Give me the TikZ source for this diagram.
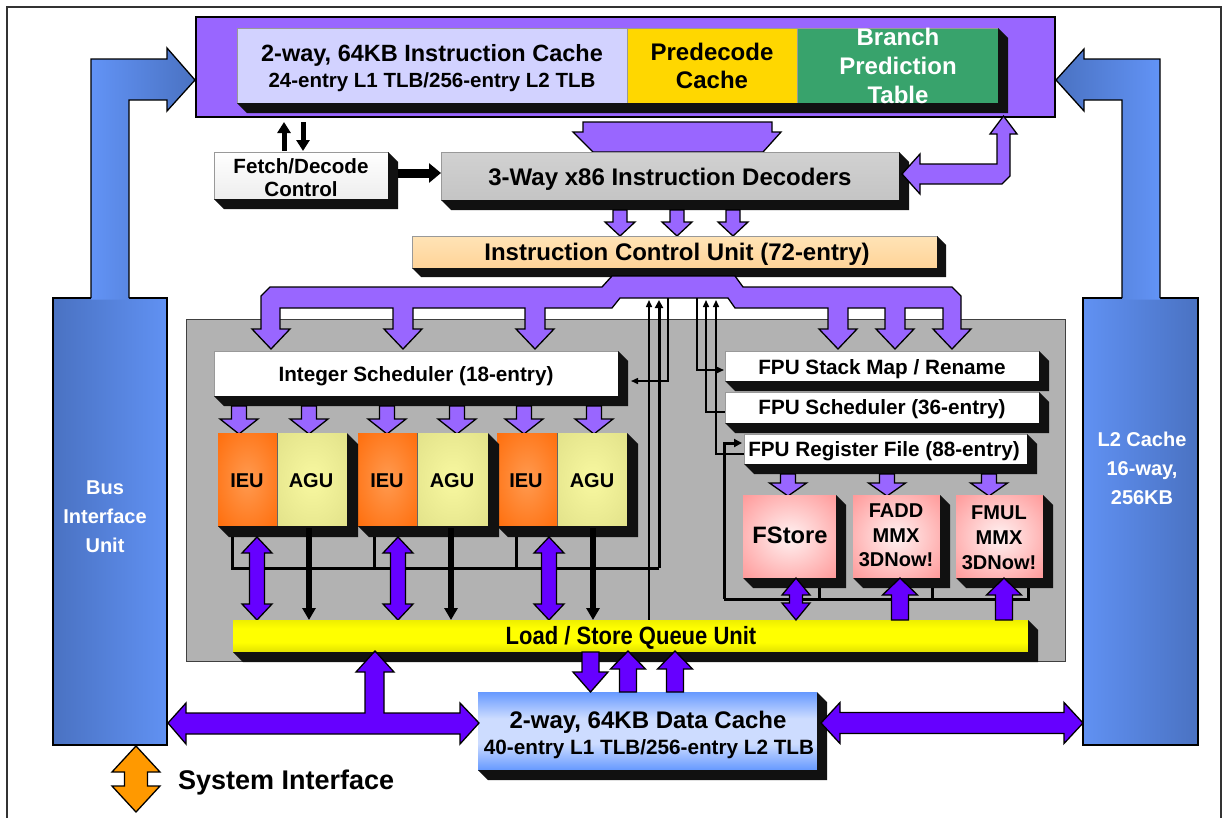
\documentclass[tikz,border=0pt]{standalone}
\usepackage{fontspec}
\setmainfont{Liberation Sans}
\newfontfamily\condf[FakeStretch=0.88]{Liberation Sans}
\usetikzlibrary{arrows.meta}
\definecolor{lpur}{HTML}{9966FF}
\definecolor{vio}{HTML}{6600FF}
\definecolor{bblue}{HTML}{6699FF}
\definecolor{dblue}{HTML}{4A72C2}
\definecolor{lav}{HTML}{D2D2FF}
\definecolor{gold}{HTML}{FFD700}
\definecolor{bgreen}{RGB}{56,163,108}
\definecolor{mgray}{HTML}{B2B2B2}
\definecolor{peachl}{HTML}{FFE3B6}
\definecolor{peachd}{HTML}{FFD398}
\definecolor{ieuor}{HTML}{FF6600}
\definecolor{ieult}{HTML}{FF9A50}
\definecolor{agud}{HTML}{DCDC84}
\definecolor{agul}{HTML}{F8F8A0}
\definecolor{pinkd}{HTML}{FF7F7F}
\definecolor{pinkl}{HTML}{FFF2F2}
\definecolor{sysor}{HTML}{FF9900}
\definecolor{shad}{HTML}{111111}
\definecolor{dcl}{RGB}{205,220,255}
\definecolor{ylt}{HTML}{FFFF00}
\definecolor{ydk}{HTML}{E2E200}
\definecolor{ydk2}{HTML}{EEEE00}
\pgfdeclareradialshading{ieush}{\pgfpointorigin}{color(0bp)=(ieult); color(42bp)=(ieuor); color(100bp)=(ieuor)}
\pgfdeclareradialshading{agush}{\pgfpointorigin}{color(0bp)=(agul); color(45bp)=(agud); color(100bp)=(agud)}
\pgfdeclareradialshading{pinksh}{\pgfpointorigin}{color(0bp)=(pinkl); color(46bp)=(pinkd); color(100bp)=(pinkd)}
\pgfdeclareverticalshading{lsqsh}{100bp}{color(0bp)=(ydk); color(25bp)=(ydk); color(40bp)=(ylt); color(62bp)=(ylt); color(75bp)=(ydk2); color(100bp)=(ydk2)}
\pgfdeclareverticalshading{dcsh}{100bp}{color(0bp)=(bblue); color(25bp)=(bblue); color(42bp)=(dcl); color(58bp)=(dcl); color(75bp)=(bblue); color(100bp)=(bblue)}
\newcommand\fsz[2]{\fontsize{#1}{#2}\selectfont}
% box node: name, x1, y1, x2, y2, style
\newcommand\ubox[6]{\node[unit,#6,minimum width={#4-#2},minimum height={#5-#3}] (#1) at (#2,#3) {};}
% extrusion shadow from first node to last node
\newcommand\extr[3][10]{\fill[shad] (#2.south west) -- ([shift={(#1,#1)}]#2.south west) -- ([shift={(#1,#1)}]#3.south east) -- ([shift={(#1,#1)}]#3.north east) -- (#3.north east) -- (#3.south east) -- cycle;}
% text: name, x, cap-centre y, text, size, colour
\newcommand\tl[6]{\node[ts=#5,text=#6] (#1) at (#2,{#3+0.358*#5}) {#4};}
% block arrows
\newcommand\bdown[7]{\filldraw[fill=#7,blockline] ({#1-#4},#2) -- ({#1+#4},#2) -- ({#1+#4},{#3-#6}) -- ({#1+#5},{#3-#6}) -- (#1,#3) -- ({#1-#5},{#3-#6}) -- ({#1-#4},{#3-#6}) -- cycle;}
\newcommand\bup[7]{\filldraw[fill=#7,blockline] ({#1-#4},#2) -- ({#1+#4},#2) -- ({#1+#4},{#3+#6}) -- ({#1+#5},{#3+#6}) -- (#1,#3) -- ({#1-#5},{#3+#6}) -- ({#1-#4},{#3+#6}) -- cycle;}
\newcommand\bvd[7]{\filldraw[fill=#7,blockline] (#1,#2) -- ({#1+#5},{#2+#6}) -- ({#1+#4},{#2+#6}) -- ({#1+#4},{#3-#6}) -- ({#1+#5},{#3-#6}) -- (#1,#3) -- ({#1-#5},{#3-#6}) -- ({#1-#4},{#3-#6}) -- ({#1-#4},{#2+#6}) -- ({#1-#5},{#2+#6}) -- cycle;}
\newcommand\bhd[7]{\filldraw[fill=#7,blockline] (#2,#1) -- ({#2+#6},{#1-#5}) -- ({#2+#6},{#1-#4}) -- ({#3-#6},{#1-#4}) -- ({#3-#6},{#1-#5}) -- (#3,#1) -- ({#3-#6},{#1+#5}) -- ({#3-#6},{#1+#4}) -- ({#2+#6},{#1+#4}) -- ({#2+#6},{#1+#5}) -- cycle;}
\begin{document}
\begin{tikzpicture}[x=1pt,y=-1pt,
  blockline/.style={draw=black,line width=1.3pt,line join=miter},
  unit/.style={anchor=north west,inner sep=0,outer sep=0,draw=black!40,line width=0.8pt},
  ts/.style={inner sep=0,anchor=base,font={\bfseries\fsz{#1}{#1}}},
  thinarr/.style={line width=1.5pt,-{Triangle[length=7pt,width=6pt]}},
  thickarr/.style={line width=3pt,-{Triangle[length=8pt,width=8pt]}},
  fatarr/.style={line width=5.5pt,-{Triangle[length=12pt,width=13pt]}},
  wire/.style={line width=1.5pt},
  thickwire/.style={line width=3pt}]
\useasboundingbox (0,0) rectangle (1228,817);
\fill[white] (0,0) rectangle (1228,817);
\draw[black!80,line width=1.5pt] (7,7) rectangle (1221,830);

% ---- Bus interface unit and L2 cache with their L-arrows
\ubox{biu}{53}{298}{167}{745}{draw=black,line width=1.2pt,left color=dblue,middle color=bblue,right color=bblue!80!dblue}
\ubox{l2}{1083}{298}{1198}{745}{draw=black,line width=1.2pt,left color=bblue!80!dblue,middle color=bblue,right color=dblue}
\shade[left color=bblue!85!dblue,middle color=bblue,right color=dblue]
  (91,299.5) -- (91,59) -- (167,59) -- (167,48) -- (195,80) -- (167,111) -- (167,100) -- (129,100) -- (129,299.5) -- cycle;
\draw[blockline] (91,298) -- (91,59) -- (167,59) -- (167,48) -- (195,80) -- (167,111) -- (167,100) -- (129,100) -- (129,298);
\shade[left color=dblue,middle color=bblue,right color=bblue!85!dblue]
  (1122,299.5) -- (1122,100) -- (1084,100) -- (1084,111) -- (1056,80) -- (1084,49) -- (1084,59) -- (1160,59) -- (1160,299.5) -- cycle;
\draw[blockline] (1122,298) -- (1122,100) -- (1084,100) -- (1084,111) -- (1056,80) -- (1084,49) -- (1084,59) -- (1160,59) -- (1160,298);
\tl{biu1}{105}{487}{Bus}{20}{white}
\tl{biu2}{105}{516}{Interface}{20}{white}
\tl{biu3}{105}{545}{Unit}{20}{white}
\tl{l2a}{1142}{439}{L2 Cache}{20}{white}
\tl{l2b}{1142}{468}{16-way,}{20}{white}
\tl{l2c}{1142}{497}{256KB}{20}{white}

% ---- Fetch block
\ubox{fetch}{196}{17}{1055}{117}{draw=black,line width=1.2pt,fill=lpur}
\ubox{ic}{237}{28}{627}{103}{fill=lav}
\ubox{pdc}{627}{28}{797}{103}{fill=gold}
\ubox{bpt}{797}{28}{998}{103}{fill=bgreen}
\extr{ic}{bpt}
\tl{ic1}{432}{53}{2-way, 64KB Instruction Cache}{23.5}{black}
\tl{ic2}{432}{80}{24-entry L1 TLB/256-entry L2 TLB}{20.5}{black}
\tl{pdc1}{712}{52}{Predecode}{24}{black}
\tl{pdc2}{712}{80}{Cache}{24}{black}
\tl{bpt1}{898}{37}{Branch}{24}{white}
\tl{bpt2}{898}{66}{Prediction}{24}{white}
\tl{bpt3}{898}{95}{Table}{24}{white}

% wide feed from fetch block to decoders
\filldraw[fill=lpur,blockline] (583,122) -- (772,122) -- (772,132) -- (781,132) -- (763,152) -- (593,152) -- (573,132) -- (583,132) -- cycle;

% ---- Fetch/Decode control
\ubox{fdc}{214}{152}{388}{199}{top color=white,bottom color=black!7}
\extr{fdc}{fdc}
\tl{fdc1}{301}{166}{Fetch/Decode}{20.6}{black}
\tl{fdc2}{301}{189}{Control}{20.6}{black}
\draw[line width=5pt,-{Triangle[length=11pt,width=13pt]}] (284,151) -- (284,122);
\draw[line width=5pt,-{Triangle[length=11pt,width=13pt]}] (303,122) -- (303,151);

% ---- Decoders
\ubox{dec}{441}{152}{899}{200}{top color=black!18,bottom color=black!23}
\extr{dec}{dec}
\tl{dec1}{670}{177}{3-Way x86 Instruction Decoders}{24}{black}
\draw[line width=9pt,-{Triangle[length=12pt,width=19pt]}] (398,173) -- (441,173);
% decoders <-> branch prediction table
\filldraw[fill=lpur,blockline] (902,174) -- (920,154) -- (920,164) -- (997,164) -- (997,134) -- (990,134) -- (1003.5,116) -- (1017,134) -- (1010,134) -- (1010,176) -- (1002,184) -- (920,184) -- (920,194) -- cycle;
\bdown{620}{210}{236}{7}{15}{14}{lpur}
\bdown{677}{210}{236}{7}{15}{14}{lpur}
\bdown{733}{210}{236}{7}{15}{14}{lpur}

% ---- Instruction control unit
\ubox{icu}{412}{236}{937}{268}{top color=peachl,bottom color=peachd}
\extr[9]{icu}{icu}
\tl{icu1}{677}{252}{Instruction Control Unit (72-entry)}{24}{black}

% ---- execution core background
\ubox{core}{186}{319}{1065}{661}{fill=mgray,draw=black!75,line width=1pt}

% dispatch band
\filldraw[fill=lpur,blockline] (612,276) -- (735,276) -- (743,287) -- (952,287) -- (961,296) -- (961,329) -- (971,329) -- (952,349) -- (933,329) -- (943,329) -- (943,308) -- (905,308) -- (905,329) -- (914,329) -- (895,349) -- (876,329) -- (885,329) -- (885,308) -- (848,308) -- (848,329) -- (857,329) -- (838,349) -- (819,329) -- (828,329) -- (828,308) -- (735,308) -- (728,298) -- (620,298) -- (612,308) -- (545,308) -- (545,329) -- (554,329) -- (535,349) -- (516,329) -- (525,329) -- (525,308) -- (413,308) -- (413,329) -- (422,329) -- (403,349) -- (384,329) -- (393,329) -- (393,308) -- (280,308) -- (280,329) -- (290,329) -- (271,349) -- (252,329) -- (261,329) -- (261,296) -- (270,287) -- (602,287) -- cycle;

% ---- Integer side
\ubox{isch}{214}{351}{618}{396}{fill=white}
\extr{isch}{isch}
\tl{isch1}{416}{374}{Integer Scheduler (18-entry)}{20.7}{black}
\foreach \cx in {239,309,387,457,524,594} {\bdown{\cx}{406}{434}{7.5}{19}{15}{lpur}}
\ubox{ieu1}{218}{433}{277}{526}{draw=none,shading=ieush}
\ubox{agu1}{277}{433}{347}{526}{draw=none,shading=agush}
\ubox{ieu2}{358}{433}{417}{526}{draw=none,shading=ieush}
\ubox{agu2}{417}{433}{488}{526}{draw=none,shading=agush}
\ubox{ieu3}{497}{433}{557}{526}{draw=none,shading=ieush}
\ubox{agu3}{557}{433}{627}{526}{draw=none,shading=agush}
\draw[black!60,line width=0.6pt] (277,433) -- (277,526) (417,433) -- (417,526) (557,433) -- (557,526);
\extr[11]{ieu1}{agu1}
\extr[11]{ieu2}{agu2}
\extr[11]{ieu3}{agu3}
\tl{ieu1t}{247}{480}{IEU}{20}{black}
\tl{agu1t}{311}{480}{AGU}{20}{black}
\tl{ieu2t}{387}{480}{IEU}{20}{black}
\tl{agu2t}{452}{480}{AGU}{20}{black}
\tl{ieu3t}{526}{480}{IEU}{20}{black}
\tl{agu3t}{592}{480}{AGU}{20}{black}
% integer result bus
\draw[thickwire] (232,537) -- (232,568) -- (659,568);
\draw[thickwire] (374,537) -- (374,568);
\draw[thickwire] (516,537) -- (516,568);
\draw[thickarr] (659,568) -- (659,300);
% LSQ -> ICU
\draw[thinarr] (649,620) -- (649,300);
% ICU -> integer scheduler
\draw[thinarr] (668,298) -- (668,381) -- (631,381);
% ICU -> FPU stack map
\draw[thinarr] (697,298) -- (697,370) -- (724,370);
% FPU scheduler -> ICU, FPU register file -> ICU
\draw[thinarr] (725,412) -- (706,412) -- (706,300);
\draw[thinarr] (744,454) -- (716,454) -- (716,300);
% IEU <-> LSQ and AGU -> LSQ
\foreach \cx in {257,398,549} {\bvd{\cx}{537}{620}{7.5}{15}{16}{vio}}
\foreach \cx in {309,451,593} {\draw[fatarr] (\cx,528) -- (\cx,620);}

% ---- FPU side
\ubox{fsm}{725}{351}{1039}{381}{fill=white}
\extr{fsm}{fsm}
\ubox{fsch}{725}{392}{1039}{423}{fill=white}
\extr{fsch}{fsch}
\ubox{frf}{744}{434}{1027}{464}{fill=white}
\extr{frf}{frf}
\tl{fsm1}{882}{367}{FPU Stack Map / Rename}{20.7}{black}
\tl{fsch1}{882}{407}{FPU Scheduler (36-entry)}{20.7}{black}
\tl{frf1}{884}{449}{FPU Register File (88-entry)}{20.7}{black}
\foreach \cx in {788,887,989} {\bdown{\cx}{474}{496}{7.5}{18.5}{13}{lpur}}
\ubox{fst}{743}{495}{836}{578}{draw=none,shading=pinksh}
\ubox{fadd}{853}{495}{940}{578}{draw=none,shading=pinksh}
\ubox{fmul}{956}{495}{1043}{578}{draw=none,shading=pinksh}
\extr{fst}{fst}
\extr{fadd}{fadd}
\extr{fmul}{fmul}
\tl{fst1}{790}{535}{FStore}{23.7}{black}
\tl{fadd1}{896}{510}{FADD}{20}{black}
\tl{fadd2}{896}{535}{MMX}{20}{black}
\tl{fadd3}{896}{559}{3DNow!}{20}{black}
\tl{fmul1}{999}{512}{FMUL}{20}{black}
\tl{fmul2}{999}{537}{MMX}{20}{black}
\tl{fmul3}{999}{562}{3DNow!}{20}{black}
% FP result bus -> register file
\draw[thickwire] (819,588) -- (819,599);
\draw[thickwire] (932,588) -- (932,599);
\draw[thickwire] (1028,588) -- (1028,599) -- (724,599);
\draw[thickarr] (724,599) -- (724,443) -- (742,443);

% ---- Load / Store queue
\ubox{lsq}{233}{620}{1028}{652}{draw=none,shading=lsqsh}
\extr{lsq}{lsq}
\tl{lsq1}{631}{636}{\condf Load / Store Queue Unit}{25}{black}
\bvd{796}{578}{620}{6.5}{14}{17}{vio}
\bup{900}{620}{578}{8.5}{17.5}{17}{vio}
\bup{1004}{620}{578}{8.5}{17.5}{17}{vio}

% ---- Data cache
\ubox{dc}{478}{692}{817}{770}{draw=none,shading=dcsh}
\extr{dc}{dc}
\tl{dc1}{648}{720}{2-way, 64KB Data Cache}{24}{black}
\tl{dc2}{649}{747}{40-entry L1 TLB/256-entry L2 TLB}{20.7}{black}
\bdown{590.5}{652}{692}{8.5}{17.5}{20}{vio}
\bup{628}{692}{651}{8.5}{17.5}{18}{vio}
\bup{675}{692}{651}{8.5}{17.5}{18}{vio}

% bus interface <-> data cache, with branch to LSQ
\filldraw[fill=vio,blockline] (168,723) -- (186,703) -- (186,713) -- (365,713) -- (365,672) -- (356,672) -- (375,651) -- (394,672) -- (384,672) -- (384,713) -- (460,713) -- (460,703) -- (479,723) -- (460,744) -- (460,734) -- (186,734) -- (186,744) -- cycle;
% data cache <-> L2
\bhd{723}{821}{1083}{10.5}{20.5}{19}{vio}

% system interface
\bvd{136}{746}{812}{11.5}{24}{26}{sysor}
\node[inner sep=0,anchor=base west,font={\bfseries\fsz{27}{27}}] (sysi) at (178,{780+0.358*27}) {System Interface};
\end{tikzpicture}
\end{document}
